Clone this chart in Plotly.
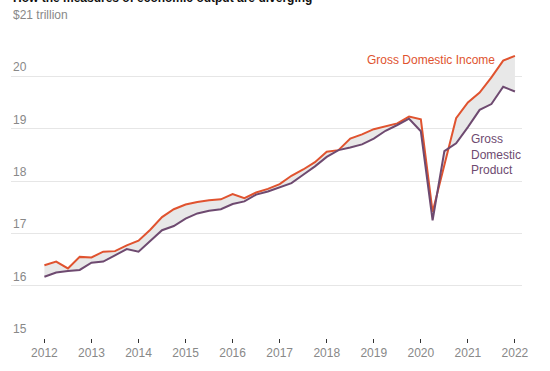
import plotly.graph_objects as go

# Quarterly data, 2012 Q1 – 2022 Q1 (trillions of dollars)
quarters = [2012.0, 2012.25, 2012.5, 2012.75,
            2013.0, 2013.25, 2013.5, 2013.75,
            2014.0, 2014.25, 2014.5, 2014.75,
            2015.0, 2015.25, 2015.5, 2015.75,
            2016.0, 2016.25, 2016.5, 2016.75,
            2017.0, 2017.25, 2017.5, 2017.75,
            2018.0, 2018.25, 2018.5, 2018.75,
            2019.0, 2019.25, 2019.5, 2019.75,
            2020.0, 2020.25, 2020.5, 2020.75,
            2021.0, 2021.25, 2021.5, 2021.75,
            2022.0]

gdi = [16.39, 16.46, 16.33, 16.55,
       16.54, 16.65, 16.66, 16.77,
       16.86, 17.07, 17.31, 17.46,
       17.55, 17.60, 17.63, 17.65,
       17.75, 17.67, 17.78, 17.85,
       17.94, 18.10, 18.22, 18.36,
       18.56, 18.59, 18.81, 18.89,
       18.99, 19.04, 19.10, 19.23,
       19.18, 17.41, 18.32, 19.20,
       19.50, 19.69, 19.98, 20.30,
       20.39]

gdp = [16.17, 16.25, 16.28, 16.30,
       16.44, 16.46, 16.58, 16.70,
       16.65, 16.86, 17.06, 17.14,
       17.28, 17.38, 17.43, 17.46,
       17.56, 17.61, 17.74, 17.80,
       17.88, 17.96, 18.12, 18.28,
       18.46, 18.59, 18.64, 18.70,
       18.81, 18.96, 19.07, 19.19,
       18.95, 17.25, 18.57, 18.72,
       19.03, 19.36, 19.47, 19.80,
       19.71]

year_ticks = [2012, 2013, 2014, 2015, 2016, 2017, 2018, 2019, 2020, 2021, 2022]
y_ticks = [15, 16, 17, 18, 19, 20, 21]
y_tick_labels = ["15", "16", "17", "18", "19", "20", "$21 trillion"]

GDI_COLOR = "#e0532f"
GDP_COLOR = "#6e4a70"
FONT = "Liberation Sans, Arial, sans-serif"

fig = go.Figure()

# shaded gap between the two measures
fig.add_trace(go.Scatter(x=quarters, y=gdp, mode="lines",
                         line=dict(width=0, color="rgba(0,0,0,0)"),
                         showlegend=False, hoverinfo="skip"))
fig.add_trace(go.Scatter(x=quarters, y=gdi, mode="lines", fill="tonexty",
                         fillcolor="#e8e8e8",
                         line=dict(width=0, color="rgba(0,0,0,0)"),
                         showlegend=False, hoverinfo="skip"))

# lines
fig.add_trace(go.Scatter(x=quarters, y=gdi, mode="lines", name="Gross Domestic Income",
                         line=dict(color=GDI_COLOR, width=2), showlegend=False))
fig.add_trace(go.Scatter(x=quarters, y=gdp, mode="lines", name="Gross Domestic Product",
                         line=dict(color=GDP_COLOR, width=2), showlegend=False))

annotations = []
for v, lab in zip(y_ticks, y_tick_labels):
    annotations.append(dict(x=0, xref="paper", y=v, yref="y", text=lab,
                            showarrow=False, xanchor="left", yanchor="bottom",
                            yshift=0, font=dict(family=FONT, size=12, color="#888888")))

annotations.append(dict(x=2020.22, y=20.32, xref="x", yref="y",
                        text="Gross Domestic Income", showarrow=False,
                        xanchor="center", yanchor="middle",
                        font=dict(family=FONT, size=12, color=GDI_COLOR)))
annotations.append(dict(x=2021.03, y=18.51, xref="x", yref="y",
                        text="Gross<br>Domestic<br>Product", showarrow=False,
                        xanchor="left", yanchor="middle", align="left",
                        font=dict(family=FONT, size=12, color=GDP_COLOR)))

# headline, mostly cut off at the top edge as in the reference
annotations.append(dict(x=0, xref="paper", y=1.054, yref="paper",
                        text="<b>How the measures of economic output are diverging</b>",
                        showarrow=False, xanchor="left", yanchor="bottom",
                        font=dict(family=FONT, size=12, color="#111111")))

fig.update_layout(
    width=550, height=371,
    margin=dict(l=11, r=28, t=24, b=33),
    paper_bgcolor="white", plot_bgcolor="white",
    font=dict(family=FONT, size=12, color="#888888"),
    xaxis=dict(range=[2011.29, 2022.15], tickvals=year_ticks,
               ticktext=[str(y) for y in year_ticks],
               showgrid=False, zeroline=False, showline=False,
               ticks="outside", ticklen=4, tickcolor="#333333", tickwidth=1,
               tickfont=dict(family=FONT, size=12, color="#888888")),
    yaxis=dict(range=[15, 21], tickvals=y_ticks, showticklabels=False,
               showgrid=True, gridcolor="#e6e6e6", gridwidth=1,
               zeroline=False, showline=False),
    annotations=annotations,
)

fig.write_html("out.html", config={"displayModeBar": False},
               post_script="document.body.style.margin='0';")
